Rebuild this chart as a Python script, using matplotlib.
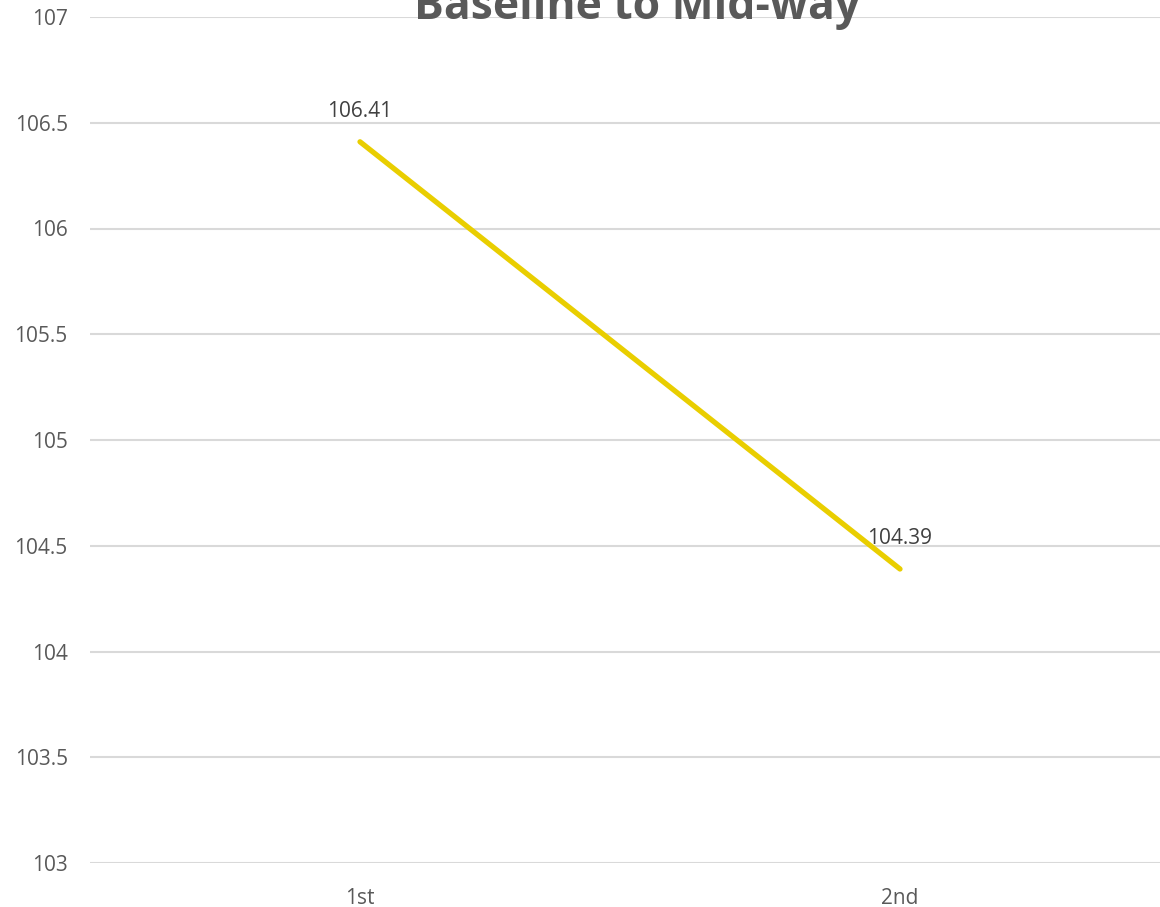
import matplotlib.pyplot as plt

categories = ['1st', '2nd']
values = [106.41, 104.39]
y_ticks = [103, 103.5, 104, 104.5, 105, 105.5, 106, 106.5, 107]
y_labels = ['103', '103.5', '104', '104.5', '105', '105.5', '106', '106.5', '107']

plt.rcParams['font.family'] = ['Open Sans', 'DejaVu Sans']

fig = plt.figure(figsize=(11.6, 9.07), dpi=100)
ax = fig.add_axes([90 / 1160, 44 / 907, 1080 / 1160, 846 / 907])

x = range(len(categories))
ax.plot(x, values, color='#E9CE00', linewidth=3.8, solid_capstyle='round', zorder=3)

# data labels above each point
for xi, v in zip(x, values):
    ax.annotate(f'{v:.2f}', (xi, v), xytext=(0, 22), textcoords='offset points',
                ha='center', va='center', fontsize=15, color='#404040')

ax.set_xlim(-0.5, 1.5)
ax.set_ylim(103, 107)
ax.set_xticks(list(x))
ax.set_xticklabels(categories)
ax.set_yticks(y_ticks)
ax.set_yticklabels(y_labels)
ax.tick_params(axis='both', length=0, labelsize=15, labelcolor='#595959')
ax.tick_params(axis='y', pad=16)
ax.tick_params(axis='x', pad=18)
ax.grid(axis='y', color='#D9D9D9', linewidth=1.5)
ax.set_axisbelow(True)
for s in ax.spines.values():
    s.set_visible(False)

fig.text(637 / 1160, 1 - 19 / 907, 'Baseline to Mid-way', ha='center', va='baseline',
         fontsize=32, fontweight='bold', color='#595959')

fig.savefig('out.png', dpi=100)
